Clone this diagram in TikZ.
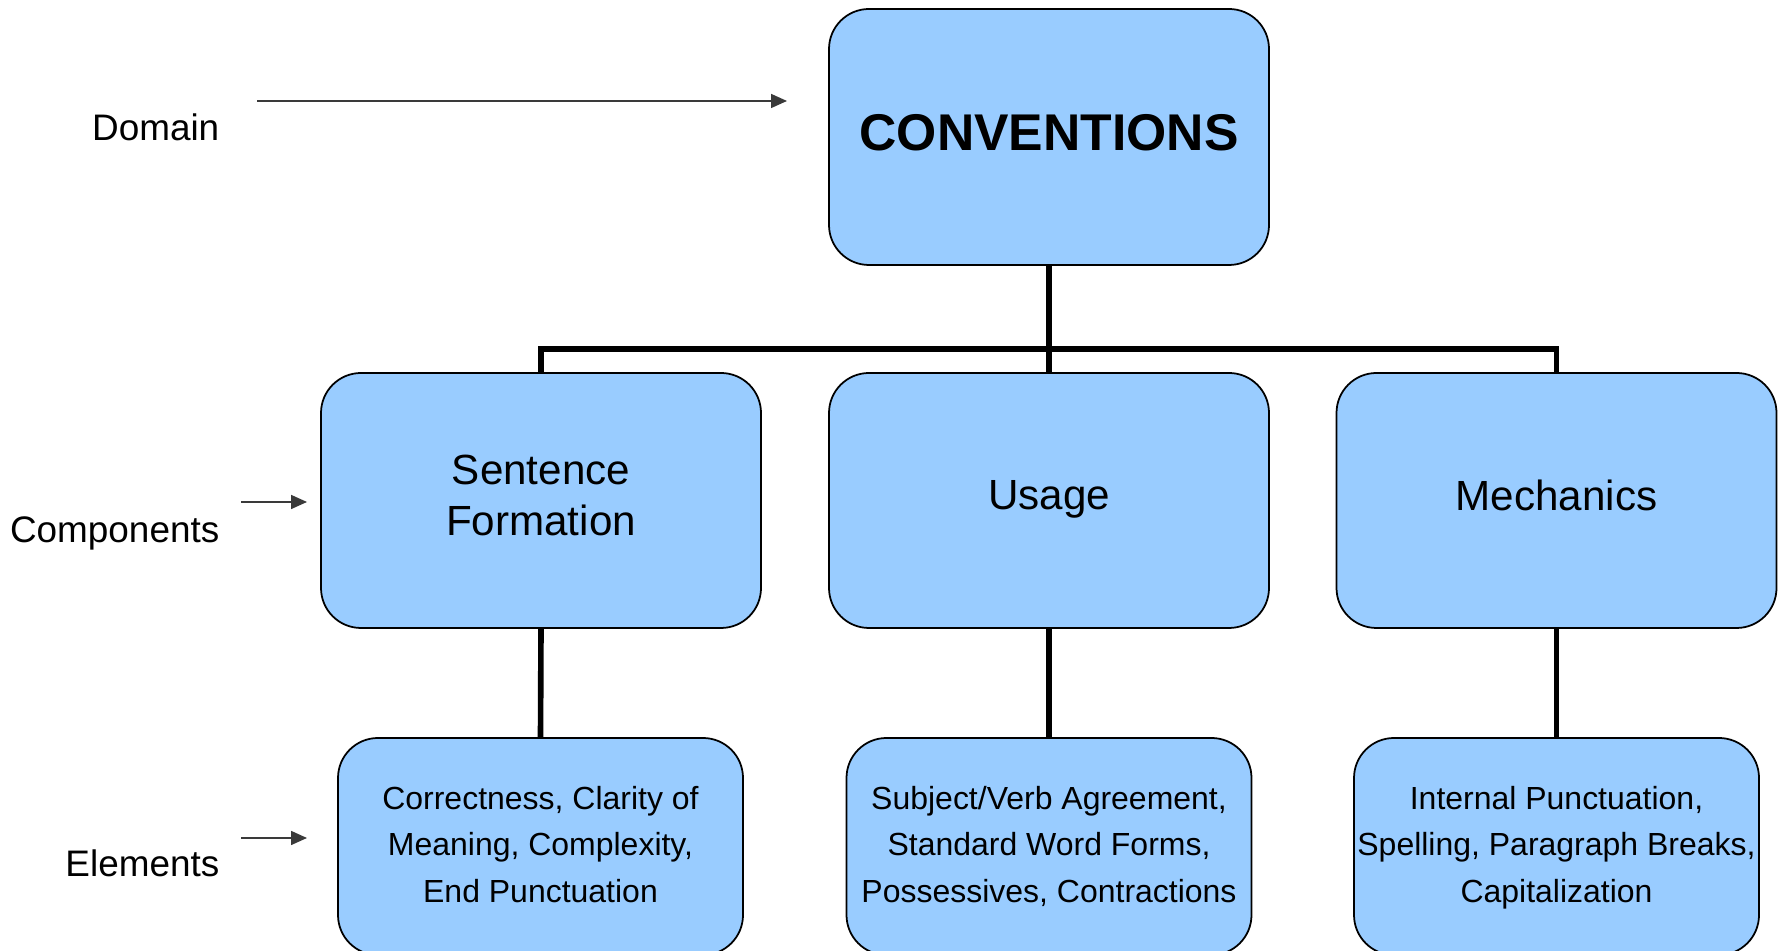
\documentclass[tikz,border=0pt]{standalone}
\usepackage{fontspec}
\setmainfont{Liberation Sans}
\usetikzlibrary{arrows.meta}
\definecolor{boxfill}{HTML}{99CCFF}
\definecolor{pointer}{HTML}{3A3A3A}

\begin{document}
\begin{tikzpicture}[
    box/.style={rectangle, rounded corners=0.4cm, draw=black, line width=0.5pt,
        fill=boxfill, outer sep=0pt, align=center},
    domainbox/.style={box, minimum width=4.40cm, minimum height=2.56cm, text depth=0.24em,
        font=\fontsize{14.7}{17}\selectfont\bfseries},
    compbox/.style={box, minimum width=4.40cm, minimum height=2.55cm, text depth=0.3em,
        font=\fontsize{12}{14.5}\selectfont},
    elembox/.style={box, minimum width=4.05cm, minimum height=2.17cm, inner xsep=0pt,
        text depth=0.12em, font=\fontsize{9.1}{13.3}\selectfont},
    level/.style={inner sep=0pt, anchor=base east, font=\fontsize{10.5}{12.6}\selectfont},
    tree/.style={black, line width=1.6pt},
    pointto/.style={pointer, line width=0.45pt, -{Triangle[length=1.6mm, width=1.4mm]}},
]
\useasboundingbox (0,0) rectangle (17.81,-9.51);
\clip (0,0) rectangle (17.81,-9.51);

% ============================================================ levels on the left
\node[level] (domain) at (2.20,-1.41) {Domain};
\node[level] (comps)  at (2.20,-5.43) {Components};
\node[level] (elems)  at (2.20,-8.77) {Elements};

\coordinate (domainfrom) at (2.57,-1.01);
\coordinate (domainto)   at (7.87,-1.01);
\coordinate (compsfrom)  at (2.41,-5.02);
\coordinate (compsto)    at (3.07,-5.02);
\coordinate (elemsfrom)  at (2.41,-8.38);
\coordinate (elemsto)    at (3.07,-8.38);

\draw[pointto] (domainfrom) -- (domainto);
\draw[pointto] (compsfrom) -- (compsto);
\draw[pointto] (elemsfrom) -- (elemsto);

% ============================================================ the tree
\node[domainbox] (conv) at (10.49,-1.37) {CONVENTIONS};

\node[compbox] (sent)  at (5.41,-5.005)   {Sentence\\Formation};
\node[compbox] (usage) at (10.49,-5.005)  {Usage};
\node[compbox] (mech)  at (15.565,-5.005) {Mechanics};

\node[elembox] (elsent)  at (5.405,-8.465) {Correctness, Clarity of\\Meaning, Complexity,\\End Punctuation};
\node[elembox] (elusage) at (10.49,-8.465) {Subject/Verb Agreement,\\Standard Word Forms,\\Possessives, Contractions};
\node[elembox] (elmech)  at (15.565,-8.465) {Internal Punctuation,\\Spelling, Paragraph Breaks,\\Capitalization};

% connectors
\coordinate (hub) at (10.49,-3.49);
\draw[tree] (conv.south) -- (usage.north);
\draw[tree] (sent.north) |- (hub) -| (mech.north);

\draw[tree] (sent.south) -- (elsent.north);
\draw[tree] (usage.south) -- (elusage.north);
\draw[tree] (mech.south) -- (elmech.north);

\end{tikzpicture}
\end{document}
